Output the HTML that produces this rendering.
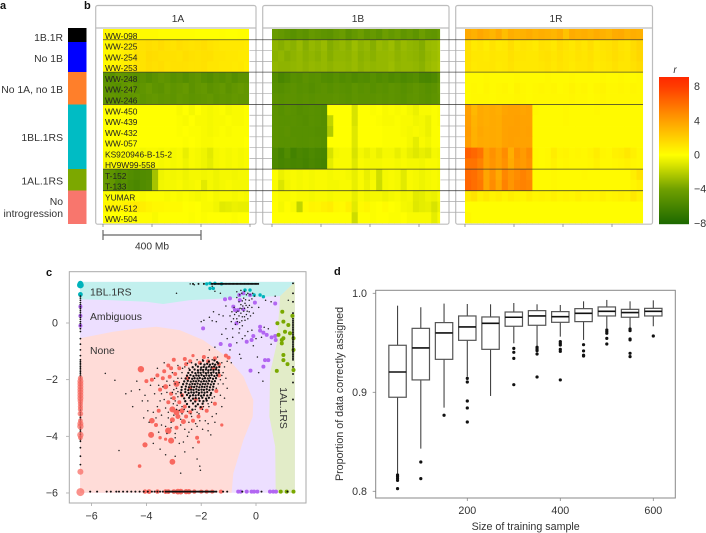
<!DOCTYPE html>
<html>
<head>
<meta charset="utf-8">
<style>
html,body{margin:0;padding:0;background:#fff;width:706px;height:533px;overflow:hidden}
svg{display:block}
text{font-family:"Liberation Sans",Arial,sans-serif;fill:#333}
.l{font-weight:bold;font-size:11px;fill:#111}
.s{font-size:10.4px}
.t{font-size:10.7px}
.st{font-size:10.2px}
.r{font-size:8.4px;fill:#222}
</style>
</head>
<body>
<svg id="fig" width="706" height="533" viewBox="0 0 706 533" xmlns="http://www.w3.org/2000/svg">
<text class="l" x="0" y="9">a</text>
<text class="l" x="84" y="9">b</text>
<text class="l" x="46" y="276">c</text>
<text class="l" x="334" y="275">d</text>

<g>
<rect x="68" y="28" width="18.5" height="14" fill="#000"/>
<rect x="68" y="42" width="18.5" height="30" fill="#0000ff"/>
<rect x="68" y="72" width="18.5" height="32.5" fill="#ff7f2a"/>
<rect x="68" y="104.5" width="18.5" height="64.5" fill="#00bcc4"/>
<rect x="68" y="169" width="18.5" height="21.5" fill="#7ca800"/>
<rect x="68" y="190.5" width="18.5" height="33.5" fill="#f8766d"/>
</g>
<g text-anchor="end" class="s">
<text class="s" x="63" y="41">1B.1R</text>
<text class="s" x="63" y="62">No 1B</text>
<text class="s" x="63" y="93">No 1A, no 1B</text>
<text class="s" x="63" y="141">1BL.1RS</text>
<text class="s" x="63" y="184.5">1AL.1RS</text>
<text class="s" x="63" y="205">No</text>
<text class="s" x="63" y="217">introgression</text>
</g>

<g fill="#fff" stroke="#bdbdbd" stroke-width="1.2">
<rect x="95.7" y="5.5" width="160.3" height="218.7" rx="2"/>
<rect x="262.7" y="5.5" width="186.3" height="218.7" rx="2"/>
<rect x="455.7" y="5.5" width="196.8" height="218.7" rx="2"/>
<line x1="95.7" x2="256" y1="28" y2="28"/>
<line x1="262.7" x2="449" y1="28" y2="28"/>
<line x1="455.7" x2="652.5" y1="28" y2="28"/>
</g>
<text class="st" x="178" y="22" text-anchor="middle">1A</text>
<text class="st" x="358" y="22" text-anchor="middle">1B</text>
<text class="st" x="556" y="22" text-anchor="middle">1R</text>

<g id="heat"></g>
<g id="heatTicks"></g>

<g stroke="#666" stroke-width="1.2">
<line x1="103" x2="201" y1="235" y2="235"/>
<line x1="103" x2="103" y1="230" y2="240"/>
<line x1="201" x2="201" y1="230" y2="240"/>
</g>
<text class="st" x="152" y="249.5" text-anchor="middle">400 Mb</text>

<g id="cbar"></g>
<text x="675" y="73" font-size="10" font-style="italic" text-anchor="middle">r</text>

<g id="scatter"></g>
<g id="box"></g>
</svg>

<script>
// ---------- panel b data: r value per 25 Mb bin, one array per line ----------
const rowNames = ["WW-098","WW-225","WW-254","WW-253","WW-248","WW-247","WW-246","WW-450","WW-439","WW-432","WW-057","KS920946-B-15-2","HV9W99-558","T-152","T-133","YUMAR","WW-512","WW-504"];
const majorBreaks = [1,4,7,13,15];
const chromLengthsMb = [596,686,726];
const heat1A = [
[0.3,0.3,0.2,0.2,0.2,0.2,0.2,0.2,0.2,0.1,0.1,0.1,0.1,0.1,0.1,0,0,0,0,0.1,0,0,0.1,0.1],
[0.3,0.4,0.6,0.8,0.8,1.2,1.3,1.4,1.3,1.5,1.3,1.2,1.4,1.3,1.2,1.3,1.4,1.2,1.1,1,1,1,1,0.9],
[0.3,0.4,0.5,0.8,0.9,1.3,1.2,1.5,1.4,1.3,1.3,1.3,1.2,1.4,1.3,1.2,1.3,1.3,1.1,1.1,1,1,0.9,0.9],
[0.2,0.4,0.5,0.7,0.9,1.2,1.2,1.4,1.3,1.4,1.2,1.3,1.3,1.3,1.2,1.2,1.3,1.1,1.1,1,1,0.9,1,0.8],
[-5,-5.2,-4.6,-4.8,-5,-5.2,-5,-5.3,-5,-4.7,-4.9,-5.2,-5,-5.3,-5,-4.8,-5.2,-5.4,-5,-5.2,-4.9,-5.3,-5,-5],
[-4.8,-5,-5.2,-4.7,-4.5,-5,-4.8,-4.5,-4.9,-5,-4.6,-4.9,-4.7,-4.5,-5,-4.7,-4.6,-5,-4.8,-4.6,-5,-4.7,-4.5,-4.7],
[-4.8,-4.7,-4.9,-4.7,-4.8,-4.6,-4.9,-4.7,-4.6,-4.8,-4.7,-4.9,-4.6,-4.7,-4.9,-4.8,-4.7,-4.6,-4.9,-4.7,-4.8,-4.6,-4.7,-4.7],
[0,0,0,0,0,0,0,0,0,0,0,0,-0.2,0,-0.3,0,-0.2,-0.3,-0.2,-0.1,-0.3,-0.2,-0.2,-0.1],
[0,0,0,0,0,0,0,0,0,0,0,0,-0.1,-0.2,0,-0.2,-0.2,-0.3,-0.2,-0.2,-0.1,-0.2,-0.2,-0.1],
[0,0,0,0,0,0,0,0,0,0,0,0,-0.1,0,-0.1,-0.1,-0.2,-0.3,-0.2,-0.1,-0.2,-0.1,-0.1,-0.1],
[0,0,0.1,0.1,0,0,0,0,0,0,0,0,0,-0.1,0,-0.1,-0.2,-0.2,-0.1,-0.1,-0.1,-0.1,-0.1,0],
[-0.1,-0.2,-0.2,-0.1,-0.2,-0.2,-0.3,-0.2,-0.2,-0.3,-0.2,-0.3,-0.2,-0.7,-0.2,-0.3,-0.5,-0.9,-0.3,-0.2,-0.3,-0.2,-0.3,-0.2],
[-0.2,-0.2,-0.3,-0.2,-0.2,-0.3,-0.3,-0.2,-0.2,-0.3,-0.2,-0.3,-0.2,-0.5,-0.2,-0.3,-0.5,-0.8,-0.3,-0.2,-0.3,-0.2,-0.3,-0.2],
[-4.6,-4.9,-5.4,-5.1,-5.4,-5.6,-5.5,-5.4,-2.6,-0.5,-0.3,-0.4,-0.3,-0.5,-0.3,-0.3,-0.4,-0.3,-0.5,-0.3,-0.3,-0.4,-0.3,-0.3],
[-4.4,-4.7,-5.5,-5.2,-5.6,-5.8,-5.5,-5.3,-2.5,-0.4,-0.3,-0.3,-0.2,-0.4,-0.3,-0.2,-0.9,-0.3,-0.5,-0.3,-0.2,-0.3,-0.3,-0.3],
[-0.1,-0.1,-0.2,-0.2,-0.1,-0.1,-0.2,-0.1,-0.1,-0.1,-0.2,-0.1,-0.2,-0.1,-0.2,-0.3,-0.2,-0.1,-0.3,-0.2,-0.2,-0.3,-0.2,-0.3],
[0.4,0.5,0.4,0.6,0.8,0.9,0.7,0.5,0.3,0.3,0.2,0.2,0.2,0,0.1,0,-0.2,-0.2,-0.4,-0.9,-0.8,-0.6,-0.7,-0.7],
[0,0,0,0,0,0.1,0.1,0.1,-0.2,0,0,0,0,0,-0.1,0,-0.1,0,0,0,0,-0.1,0,0]
];
const heat1B = [
[-4.4,-4.6,-4.9,-5.1,-4.8,-5,-4.5,-4.7,-4.9,-5,-4.6,-4.3,-5,-4.6,-4.2,-4.8,-4.5,-4.9,-4.2,-4.6,-4.3,-4.8,-4.5,-4.9,-4.2,-4.7,-4.8,-4.4],
[-3.2,-3.4,-3.1,-3.3,-2.9,-3.4,-3,-3.2,-2.9,-3.5,-3.2,-3,-3.3,-2.8,-3.2,-3,-3.4,-2.9,-3.1,-2.8,-3.3,-2.9,-3.1,-3.2,-3.5,-2.9,-2.8,-2.6],
[-3.3,-3.1,-3.4,-3.2,-3,-3.3,-3.1,-3.3,-3,-3.4,-3.1,-3.1,-3.2,-2.9,-3.3,-3.1,-3.3,-3,-3,-2.9,-3.2,-3,-3.1,-3.2,-3.4,-3,-2.8,-2.6],
[-3.1,-3.2,-3.2,-3.1,-3,-3.2,-3,-3.1,-3,-3.2,-3,-3,-3.1,-2.9,-3.2,-3,-3.1,-3,-3,-2.8,-3.1,-3,-3,-3.1,-3.3,-2.9,-2.7,-2.5],
[-5.4,-5.9,-5.6,-5.2,-5.3,-5,-5.2,-5.1,-5.4,-5.5,-5.2,-5.5,-5.3,-5.6,-5.4,-5.5,-5.2,-5.5,-5.3,-5.6,-5.4,-5.7,-5.5,-5.3,-5.8,-5.9,-5.6,-5],
[-5.2,-5.3,-5.1,-5,-5.2,-5.1,-5.3,-5.1,-5,-5.2,-5,-5.1,-5.2,-4.9,-5.1,-5,-5.2,-5,-5.1,-4.9,-5,-5.2,-5,-4.8,-5,-5.2,-5,-4.6],
[-5,-5.1,-5,-5,-5.1,-5,-5.1,-5,-5,-5,-4.9,-5,-5.1,-4.9,-5,-5,-5,-4.9,-5,-4.9,-5,-5.1,-4.9,-4.8,-5,-5.1,-4.9,-4.7],
[-5,-5.2,-5,-5.1,-5.3,-5.2,-5.1,-5.2,-5.3,0,0,0,0,-1.2,0,0,-0.1,0,-0.2,-0.1,-0.2,-0.1,-0.3,-0.6,-0.2,-0.2,-0.1,-0.2],
[-5,-5.1,-5.1,-5.1,-5.2,-5.3,-5.1,-5.2,-5.3,-1.8,0,0,0,-1.2,0,0,0,-0.1,-0.2,-0.2,-0.1,-0.2,-0.2,-0.4,-0.3,-0.6,-0.1,-0.2],
[-5,-5.1,-5,-5.2,-5.2,-5.2,-5.2,-5.3,-5.3,-2.2,0,0,0,-1,0,0,0,0,-0.1,-0.1,-0.1,-0.2,-0.3,-0.2,-0.3,-0.6,-0.1,-0.1],
[-5,-5.1,-5.1,-5.1,-5.2,-5.2,-5.1,-5.2,-5.3,0,0,0,0,-1,0,0,0,0,-0.1,-0.1,-0.1,-0.1,-0.3,-0.8,-0.2,-0.4,-0.1,-0.1],
[-5.6,-6.1,-5.5,-6.2,-5.8,-6,-5.7,-5.9,-6,-1.2,-0.3,-0.2,-0.2,-1.2,-0.3,-0.6,-0.3,-0.7,-0.3,-0.3,-0.7,-0.3,-0.7,-1,-0.7,-0.9,-0.3,-0.4],
[-5.7,-6,-5.8,-6,-5.9,-6.1,-5.8,-6,-6.1,-0.8,-0.2,-0.2,-0.2,-1,-0.2,-0.3,-0.3,-0.3,-0.2,-0.2,-0.3,-0.2,-0.3,-0.3,-0.4,-0.2,-0.2,-0.3],
[-0.1,-0.6,-0.3,-0.2,-0.3,-0.2,-0.3,-0.2,-0.2,-0.3,-0.2,-0.2,-0.3,-0.7,-0.2,-0.7,-0.3,-1.4,-0.3,-0.2,-0.3,-0.9,-0.2,-0.3,-0.5,-0.3,-0.2,-0.3],
[-0.2,-1.1,-0.4,-0.2,-0.3,-0.2,-0.3,-0.2,-0.2,-0.3,-0.3,-0.2,-0.2,-0.7,-0.2,-0.6,-0.2,-1.5,-0.3,-0.2,-0.3,-0.9,-0.2,-0.3,-0.5,-0.3,-0.2,-0.3],
[-0.1,-0.2,-0.2,-0.1,-0.2,-0.2,-0.3,-0.2,-0.2,-0.3,-0.2,-0.2,-0.2,-0.7,-0.2,-0.4,-0.3,-0.3,-0.5,-0.3,-0.2,-0.4,-0.3,-0.9,-0.8,-0.5,-0.6,-0.3],
[0.1,-0.3,0.1,-0.2,-1.8,0.2,0.5,0.4,0.6,0.8,0.3,0.2,0.6,-0.9,0.2,0.4,-0.1,0,0.2,0,-0.1,-0.3,-0.4,-1,-0.8,-0.7,-1.2,-0.6],
[0,0,0,0,0,0,0,0,0,0,0,0,0,-1.5,0,0,-0.1,0,0,-0.1,-0.1,0,-0.2,-0.2,-0.2,-0.2,-0.8,-0.2]
];
const heat1R = [
[3.6,3.3,3.7,3.4,3.1,3.6,2.8,3.4,3.2,3.3,3.5,3.2,3.4,3.3,3.1,3.4,2.6,3.5,3.3,3.4,3.2,3.5,3.3,3.1,3.5,3.6,3.2,3.4,3.3],
[1.4,0.9,1.1,0.8,1.2,0.9,1,1.4,1,1.2,1.1,0.9,1.3,1.2,1,1.4,1.2,1,1.3,1.1,1.4,1,1.2,1.3,1.5,1.2,1.1,1.5,1.8],
[1.3,1,1,0.9,1.1,1,1,1.3,1.1,1.1,1,1,1.2,1.3,1.1,1.3,1.1,1,1.2,1.1,1.3,1,1.1,1.2,1.4,1.2,1.1,1.4,1.7],
[1.2,0.9,1,1,1.1,0.9,1,1.2,1,1,1,1,1.1,1.2,1,1.2,1.1,0.9,1.1,1.1,1.2,0.9,1,1.1,1.3,1.1,1.1,1.3,1.5],
[0.2,0.2,0.2,0.3,0.2,0.2,0.2,0.2,0.3,0.2,0.2,0.2,0.2,0.3,0.2,0.2,0.2,0.3,0.2,0.2,0.2,0.2,0.3,0.2,0.2,0.3,0.2,0.2,0.3],
[0.2,0.3,0.2,0.4,0.2,0.3,0.4,0.2,0.5,0.3,0.2,0.3,0.4,0.3,0.4,0.2,0.3,0.5,0.3,0.4,0.2,0.4,0.5,0.3,0.3,0.4,0.3,0.4,0.3],
[0.2,0.3,0.3,0.3,0.2,0.3,0.3,0.3,0.4,0.3,0.2,0.3,0.3,0.3,0.3,0.3,0.3,0.4,0.3,0.3,0.2,0.3,0.4,0.3,0.3,0.3,0.3,0.3,0.3],
[4,3,3.6,3.4,3.6,3.4,3.8,3.9,3.9,3.8,3.9,0.3,0.2,0.2,0.2,0.2,0.3,0.2,0.2,0.2,0.2,0.3,0.2,0.2,0.2,0.2,0.2,0.2,0.2],
[4.1,3.2,3.6,3.4,3.6,3.5,3.9,3.9,4,3.9,3.9,0.2,0.2,0.2,0.2,0.2,0.3,0.2,0.2,0.2,0.2,0.2,0.2,0.2,0.2,0.2,0.2,0.2,0.2],
[4.2,3.3,3.7,3.5,3.6,3.5,3.9,4,4,3.9,4,0.2,0.2,0.2,0.2,0.2,0.2,0.2,0.2,0.2,0.2,0.2,0.2,0.2,0.2,0.2,0.2,0.2,0.2],
[4.1,3.3,3.6,3.5,3.6,3.5,3.9,4,3.9,3.9,3.9,0.2,0.2,0.2,0.2,0.2,0.2,0.2,0.2,0.2,0.2,0.2,0.2,0.2,0.2,0.2,0.2,0.2,0.2],
[6.6,6.3,5.8,4,4.6,4,4.8,3.4,4.6,4.2,4.8,0.3,0.2,0.3,0.8,0.4,0.5,0.3,0.4,0.3,0.5,0.8,0.4,0.3,0.6,0.7,1,0.6,0.3],
[5.8,5.8,5.2,4,4.5,4,4.6,3.6,4.4,4.2,4.6,0.3,0.2,0.3,0.6,0.3,0.4,0.3,0.3,0.3,0.4,0.6,0.3,0.3,0.4,0.5,0.6,0.4,0.3],
[6.2,6,5.4,3.8,4.6,3.6,5,4.4,4.8,5.2,4.8,0.2,0.2,0.2,0.3,0.2,0.2,0.2,0.2,0.3,0.2,0.2,0.2,0.2,0.2,0.2,0.2,0.7,1.2],
[6.4,6,5.6,3.8,4.8,3.8,5.2,4.4,5,5.2,5,0.2,0.2,0.2,0.3,0.2,0.2,0.2,0.2,0.2,0.2,0.2,0.2,0.2,0.2,0.2,0.2,0.4,0.6],
[0.9,1.2,0.6,0.9,0.5,0.7,0.4,0.7,0.5,0.4,0.7,0.4,0.5,0.4,0.6,0.4,0.5,0.4,0.6,0.4,0.5,0.4,0.6,0.4,0.5,0.6,0.5,1,0.6],
[0.1,0.1,0.1,0.1,0.1,0.1,0.1,0.1,0.1,0.1,0.1,0.1,0.1,0.1,0.1,0.1,0.1,0.1,0.1,0.1,0.1,0.1,0.1,0.1,0.1,0.1,0.1,0.1,0.1],
[0.3,0.1,0.1,0.1,0.1,0.1,0.1,0.1,0.1,0.1,0.1,0.1,0.1,0.1,0.1,0.1,0.1,0.1,0.1,0.1,0.1,0.1,0.1,0.1,0.1,0.1,0.1,0.1,0.1]
];
const binMb = 25;
const genomeTicksMb = [0,200,400,600];
const cbarTicks = [8,4,0,-4,-8];

// ---------- panel c data ----------
const cTicksX = [-6,-4,-2,0];
const cTicksY = [0,-2,-4,-6];
const regionAll = [[-6.42,1.45],[1.42,1.45],[1.42,-5.99],[-6.42,-5.99]];
const regionNone = [[-6.42,-0.54],[-5.22,-0.31],[-4.4,-0.2],[-3.63,-0.13],[-2.78,-0.25],[-1.93,-0.6],[-1.07,-1.19],[-0.46,-1.89],[-0.1,-2.72],[-0.12,-3.31],[-0.46,-4.13],[-0.83,-5.31],[-0.89,-5.99],[-6.42,-5.99]];
const regionTeal = [[-6.42,1.45],[1.42,1.45],[0.88,0.95],[0.15,0.93],[-1.07,0.87],[-2.41,0.81],[-3.39,0.67],[-4,0.75],[-5.34,0.81],[-6.42,0.84]];
const regionGreen = [[1.42,1.45],[0.88,0.95],[0.82,0.11],[0.76,-0.72],[0.51,-1.78],[0.49,-3.31],[0.7,-4.36],[0.72,-5.99],[1.42,-5.99]];
const noneRail = [[-6.41,-1.95,2.6],[-6.41,-2.05,3],[-6.41,-2.15,3],[-6.41,-2.25,3],[-6.41,-2.35,3],[-6.41,-2.45,3],[-6.41,-2.55,3],[-6.41,-2.65,3],[-6.41,-2.75,2.8],[-6.41,-2.85,2.6],[-6.41,-2.95,2.6],[-6.41,-3.05,2.6],[-6.41,-3.2,2.8],[-6.41,-3.45,2.4],[-6.41,-3.55,3],[-6.41,-3.65,3.2],[-6.41,-3.95,3.2],[-6.41,-4.05,2.4],[-6.41,-5.25,3],[-6.41,-5.97,4]];
const nonePts = [
[-4.05,-5.95,2.2],[-3.9,-5.95,2.4],[-3.6,-5.95,2.2],[-3.3,-5.95,2.4],[-3.2,-5.95,2.4],[-3.0,-5.95,2.4],[-2.85,-5.95,2.9],[-2.75,-5.95,2.9],[-2.55,-5.95,2.6],[-2.45,-5.95,2.6],[-2.25,-5.95,2.2],[-2,-5.95,2],[-1.8,-5.95,2],[-1.6,-5.95,2],[-1.28,-5.95,2],
[-4.2,-1.63,3.2],[-3.05,-4.9,2.9],[-4.05,-4.3,2.6],[-3.83,-3.95,3],[-3.2,-3.8,3.2],[-3.1,-4.15,3],[-3.8,-3.45,2.8],[-2.9,-3.15,3],[-3.05,-3.05,3],[-2.7,-3.1,2.5],[-2.85,-3.3,2.5],[-3.05,-3.42,2.5],[-2.65,-3.48,2.5],[-3.3,-2.25,2.6],[-2.9,-2.15,3],[-4.25,-5.05,1.8],[-1.25,-3.6,1.6],[-2.1,-4.2,1.6],[-3.5,-4.05,1.7],[-3.3,-4.1,1.6],
[-3,-1.3],[-2.6,-1.27],[-2.55,-1.45],[-2.4,-1.35],[-2.3,-1.15,1.6],[-2.05,-1.4],[-1.9,-1.2],[-1.75,-1.35],[-1.5,-1.25],[-1.35,-1.45],[-1.1,-1.15],[-1,-1.22],[-3.2,-1.5],[-3.35,-1.7],[-3.1,-1.6],[-3.6,-1.85],[-3.8,-2],[-4,-2.05],[-3.15,-1.9],[-2.95,-1.8],[-2.8,-1.6],[-3.4,-1.95],[-3.5,-2.35],[-3.1,-2.5],[-3.2,-2.8],[-3,-2.65],[-2.7,-2.55],[-2.8,-2.8],[-2.6,-2.95],[-2.4,-3.15],[-2.55,-3.3],[-2.3,-3.45],[-2.1,-3.3],[-2.9,-3.7],[-3.55,-3.1],[-3.65,-3.6],[-2.4,-2.3],[-2.2,-2.7],[-2.5,-1.95],[-2,-3],[-1.8,-3.1],[-1.5,-2.85],[-1.45,-2.4],[-1.35,-1.85],[-1.55,-1.6],[-2.15,-4.05]];
const purplePts = [[-1.93,-0.19],[-1.29,-0.74],[-0.95,-0.78],[-0.34,-0.66],[-0.16,-0.6],[-0.1,-0.46],[0.15,-0.13],[0.15,-0.27],[0.27,-0.34],[0.39,-0.42],[0.57,-0.51],[0.7,-0.46],[0.72,-0.6],[0.33,-1.31],[0.27,-1.54],[0.45,-1.31],[-0.2,-1.68],[-0.83,0.58],[-0.77,0.46],[-0.46,0.48],[-0.59,0.81],[-0.61,0.99],[-1.13,0.84],[-0.95,0.87],[-0.04,0.72],[0.7,0.69],[-0.71,-0.01],[-0.65,0.46],[-0.22,0.99],[-0.46,1.05],[-0.65,-5.95],[-0.56,-5.95],[-0.34,-5.95],[-0.16,-5.95],[-0.07,-5.95],[0.05,-5.95],[0.51,-5.95],[0.63,-5.95],[0.73,-5.95],[-6.41,0.58],[-6.41,0.25],[-6.41,-0.1]];
const greenPts = [[0.96,0.4],[1,0.05],[0.78,-0.01],[1.18,-0.07],[0.82,-0.42],[1.06,-0.31],[1.24,-0.36],[1.37,-0.54],[1,-0.54],[0.94,-0.6],[0.94,-0.72],[1.37,-0.95],[1,-1.13],[1,-1.31],[1.15,-1.45],[1.37,-1.66],[0.76,-1.69],[1.33,0.25],[0.9,-5.95],[1.12,-5.95],[1.37,-5.95]];
const tealPts = [[-6.41,1.34,3.4],[-6.41,1.4,2.6],[-6.41,1.01,2.4],[-1.8,1.38],[-1.68,1.4],[-1.5,1.4],[-1.26,1.38],[-1.68,1.22],[-1.56,1.22],[-0.4,1.16],[-0.22,1.16],[-0.07,0.99],[0.15,0.99],[0.27,0.93]];
const railTopX = [-2.3,-2.1,-1.9,-1.62,-1.58,-1.52,-1.47,-1.42,-1.37,-1.32,-1.27,-1.22,-1.17,-1.12,-1.07,-1.02,-0.97,-0.92,-0.87,-0.82,-0.77,-0.72,-0.67,-0.62,-0.57,-0.52,-0.47,-0.42,-0.37,-0.32,-0.27,-0.22,-0.17,-0.12,-0.07,-0.02,0.03,0.08];
const railLeftY = [0.95,0.88,0.8,0.72,0.65,0.57,0.5,0.43,0.36,0.28,0.2,0.13,0.05,-0.02,-0.1,-0.2,-0.3,-0.55,-0.75,-0.95,-1.15,-1.3,-1.36,-1.42,-1.48,-1.54,-1.6,-1.66,-1.72,-1.78,-1.84,-1.9,-1.96,-2.02,-2.08,-2.14,-2.2,-2.26,-2.32,-2.38,-2.44,-2.5,-2.56,-2.62,-2.68,-2.74,-2.8,-2.86,-2.92,-2.98,-3.04,-3.1,-3.16,-3.22,-3.28,-3.34,-3.4,-3.46,-3.52,-3.58,-3.64,-3.7,-3.76,-3.82,-3.88,-3.94,-4,-4.06,-4.12,-4.18,-4.4,-4.7,-5];
const railBottomX = [-6.05,-5.8,-5.45,-5.3,-5.1,-5,-4.85,-4.7,-4.55,-4.4,-4.25,-4.1,-3.95,-3.8,-3.7,-3.6,-3.5,-3.4,-3.3,-3.25,-3.2,-3.15,-3.1,-3.05,-3,-2.95,-2.9,-2.85,-2.8,-2.75,-2.7,-2.65,-2.6,-2.55,-2.5,-2.45,-2.4,-2.35,-2.3,-2.25,-2.2,-2.15,-2.1,-2.05,-2,-1.95,-1.9,-1.85,-1.8,-1.75,-1.7,-1.65,-1.6,-1.55,-1.5,-1.45,-1.2,-1.05,-0.5,0.2,1.15];
const railRightY = [1.4,1.05,0.75,0.35,0.15,0.08,0.02,-0.04,-0.1,-0.16,-0.22,-0.28,-0.34,-0.4,-0.46,-0.52,-0.58,-0.64,-0.7,-0.76,-0.82,-0.88,-0.94,-1,-1.06,-1.12,-1.18,-1.24,-1.3,-1.55,-1.8,-2.1,-2.7];
const blackCore = [
[-1.93,-1.33],[-1.72,-1.36],[-1.52,-1.32],[-1.42,-1.38],
[-2.2,-1.46],[-2.02,-1.44],[-1.88,-1.47],[-1.78,-1.44],[-1.68,-1.47],[-1.58,-1.44],[-1.49,-1.47],[-1.38,-1.43],
[-2.31,-1.56],[-2.12,-1.54],[-2,-1.57],[-1.91,-1.55],[-1.81,-1.57],[-1.72,-1.54],[-1.62,-1.56],[-1.53,-1.54],[-1.44,-1.57],[-1.34,-1.55],
[-2.42,-1.66],[-2.24,-1.64],[-2.12,-1.67],[-2.02,-1.65],[-1.93,-1.66],[-1.83,-1.64],[-1.74,-1.67],[-1.65,-1.65],[-1.55,-1.66],[-1.46,-1.64],[-1.36,-1.67],
[-2.47,-1.76],[-2.33,-1.74],[-2.21,-1.77],[-2.11,-1.75],[-2.02,-1.76],[-1.92,-1.74],[-1.83,-1.77],[-1.74,-1.75],[-1.64,-1.76],[-1.55,-1.74],[-1.45,-1.77],[-1.35,-1.75],
[-2.52,-1.86],[-2.39,-1.84],[-2.28,-1.87],[-2.18,-1.85],[-2.09,-1.86],[-1.99,-1.84],[-1.9,-1.87],[-1.81,-1.85],[-1.71,-1.86],[-1.62,-1.84],[-1.52,-1.87],[-1.42,-1.85],
[-2.57,-1.96],[-2.44,-1.94],[-2.33,-1.97],[-2.24,-1.95],[-2.14,-1.96],[-2.05,-1.94],[-1.95,-1.97],[-1.86,-1.95],[-1.76,-1.96],[-1.67,-1.94],[-1.57,-1.97],[-1.46,-1.95],
[-2.62,-2.06],[-2.49,-2.04],[-2.38,-2.07],[-2.28,-2.05],[-2.19,-2.06],[-2.09,-2.04],[-2,-2.07],[-1.9,-2.05],[-1.81,-2.06],[-1.71,-2.04],[-1.61,-2.07],[-1.5,-2.05],
[-2.66,-2.16],[-2.53,-2.14],[-2.42,-2.17],[-2.32,-2.15],[-2.23,-2.16],[-2.13,-2.14],[-2.04,-2.17],[-1.94,-2.15],[-1.85,-2.16],[-1.75,-2.14],[-1.65,-2.17],[-1.54,-2.15],
[-2.71,-2.26],[-2.56,-2.24],[-2.45,-2.27],[-2.35,-2.25],[-2.26,-2.26],[-2.16,-2.24],[-2.07,-2.27],[-1.97,-2.25],[-1.88,-2.26],[-1.78,-2.24],[-1.68,-2.27],[-1.56,-2.25],
[-2.72,-2.36],[-2.58,-2.34],[-2.47,-2.37],[-2.37,-2.35],[-2.28,-2.36],[-2.18,-2.34],[-2.09,-2.37],[-1.99,-2.35],[-1.9,-2.36],[-1.8,-2.34],[-1.7,-2.37],[-1.58,-2.35],
[-2.74,-2.46],[-2.58,-2.44],[-2.46,-2.47],[-2.36,-2.45],[-2.27,-2.46],[-2.17,-2.44],[-2.08,-2.47],[-1.98,-2.45],[-1.88,-2.46],[-1.78,-2.44],[-1.64,-2.47],
[-2.7,-2.56],[-2.52,-2.54],[-2.4,-2.57],[-2.3,-2.55],[-2.2,-2.56],[-2.1,-2.54],[-2,-2.57],[-1.9,-2.55],[-1.78,-2.56],[-1.66,-2.54],
[-2.62,-2.66],[-2.44,-2.64],[-2.3,-2.67],[-2.2,-2.65],[-2.08,-2.66],[-1.96,-2.64],[-1.82,-2.67],[-1.72,-2.64],
[-2.58,-2.76],[-2.38,-2.74],[-2.22,-2.77],[-2.06,-2.75],[-1.92,-2.76],[-1.8,-2.74],
[-2.52,-2.86],[-2.3,-2.84],[-2.12,-2.87],[-1.95,-2.85],
[-2.44,-2.96],[-2.2,-2.94],[-2.02,-2.97],[-2.32,-3.06]];
const blackPts = [[-5.5,-1.78],[-5.15,-2.02],[-4.75,-2.5],[-4.55,-2.4],[-4.5,-2.95],[-5,-4.5],[-4.35,-2.05],[-4.05,-2.55],[-3.95,-2.75],[-3.7,-2.5],[-3.85,-2.2],[-3.7,-1.95],[-3.55,-2.2],[-3.45,-2.5],[-3.35,-2.7],[-3.6,-2.95],[-3.75,-3.15],[-3.65,-3.35],[-3.45,-3.25],[-3.3,-3],[-3.2,-3.35],[-3.45,-3.6],[-3.3,-3.65],[-3.55,-3.85],[-3.75,-4.25],[-3.5,-4.45],[-3.3,-4.65],[-2.95,-4.7],[-2.6,-4.55],[-2.8,-4.25],[-2.5,-4],[-2.3,-4.4],[-2.15,-4.8],[-2.05,-5.05],[-2.03,-5.2],[-2.75,-5.3],[-2.95,-3.9],[-2.6,-3.75],[-2.35,-3.75],[-2.15,-3.65],[-1.95,-3.75],[-1.75,-3.8],[-1.65,-3.95],[-1.85,-3.45],[-1.6,-3.3],[-1.45,-3.2],[-1.25,-2.95],[-1.15,-2.65],[-1.05,-2.3],[-1.1,-1.95],[-1.2,-2.15],[-1.3,-2.55],[-1.75,-2.85],[-1.6,-2.65],[-1.95,-3.05],[-2.15,-3.15],[-2.35,-3.3],[-2.7,-3.2],[-2.9,-3.05],[-2.95,-2.75],[-3.05,-2.45],[-3.15,-2.2],[-3,-2.05],[-2.85,-1.95],[-3.05,-1.75],[-2.85,-1.5],[-2.7,-1.75],[-2.6,-1.55],[-2.45,-1.6],[-2.35,-1.4],[-2.2,-1.5],[-2.15,-1.3],[-1.95,-1.3],[-1.75,-1.22],[-1.6,-1.3],[-1.4,-1.2],[-1.25,-1.4],[-1.15,-1.55],[-1.2,-1.75],[-1.05,-1.35],[-0.9,-1.4],[-3.35,-1.4],[-3.6,-1.6],[-3.25,-2.05],[-2.9,-2.3],[-2.85,-2.6],[-2.7,-2.95],[-3.1,-3.7],[-2.75,-3.6],
[-2.95,-2.15],[-3,-2.35],[-2.92,-2.5],[-3.1,-2.65],[-3.02,-2.85],[-2.88,-2.9],[-2.8,-3.08],[-2.62,-3.05],[-2.5,-3.12],[-2.38,-3.2],[-2.22,-3.05],[-2.08,-3.2],[-1.92,-2.95],[-1.72,-2.95],[-1.62,-2.8],[-1.52,-2.6],[-1.45,-2.3],[-1.38,-2.15],[-1.3,-2],[-1.25,-1.85],[-2.72,-1.95],[-2.8,-2.1],[-2.68,-1.6],[-2.5,-1.42],[-2.85,-2.42],[-3.25,-2.45],[-3.4,-2.25],[-3.5,-2.75],[-3.2,-3.15],[-3,-3.25],[-3.1,-3.5],[-2.75,-3.4],[-2.45,-3.5],[-2.2,-3.55],[-2.05,-3.45],[-1.75,-3.55],[-1.5,-3.5],[-3.25,-3.9],[-2.95,-4.05],[-2.65,-4.2],[-2.45,-3.85],[-4.15,-2.75],[-4.25,-2.35],[-3.95,-3.1],[-3.9,-3.5],[-4.1,-3.35],
[-0.7,0.9],[-0.62,0.75],[-0.55,0.65],[-0.48,0.6],[-0.4,0.7],[-0.3,0.55],[-0.25,0.4],[-0.35,0.3],[-0.45,0.42],[-0.55,0.35],[-0.62,0.25],[-0.7,0.15],[-0.78,0.3],[-0.82,0.15],[-0.9,0.05],[-0.75,-0.05],[-0.6,0.02],[-0.5,-0.1],[-0.6,-0.2],[-0.4,0.1],[-0.3,0.15],[-0.2,0.25],[-0.15,0.55],[-0.1,0.35],[-0.25,0.8],[-0.15,0.85],[-0.05,0.95],[-0.35,1],[-0.45,0.88],[-0.3,1.05],[-0.7,1.1],[-0.55,1.15],[-1.3,1.05],[-1.5,1.12],[-1.6,1.3],[-1.1,0.6],[-1.2,0.25],[-1.35,0.3],[-1.45,0.05],[-1.6,0.08],[-1.9,0.1],[-2,0.05],[-1.7,0.2],[-1.55,0.4],[-1.1,-0.2],[-1.25,-0.4],[-1.5,-0.85],[-1.7,-0.95],[-1.05,-0.55],[-0.85,-0.5],[-0.7,-0.7],[-0.95,-0.95],[-0.6,-1.1],[-0.55,-1.25],[-0.5,-0.55],[-0.3,-0.3],[-0.15,-0.25],[-0.1,-0.8],[0,-0.55],[0.2,-0.5],[0.3,-0.15],[0.45,-0.2],[0.05,-1.2],[0.1,-1.75],[0.25,-2.05],[0.1,0.55],[0.35,0.8],[0.55,0.75],[0.7,0.95],[1.35,-2.7],[0.55,-0.75],[1.18,0.8],[-2.9,1.05],[-2.25,1.35],[-2.4,1.38],
[-0.52,0.5],[-0.42,0.52],[-0.36,0.62],[-0.58,0.52],[-0.66,0.42],[-0.72,0.38],[-0.5,0.22],[-0.42,0.22],[-0.68,0.05],[-0.52,0.08],[-0.32,0.42],[-0.24,0.62],[-0.5,0.78],[-0.38,0.82],[-0.22,1],[-0.12,1.05],[-0.6,1],[-0.52,1.05],[-0.42,1.12],[-0.8,0.55],[-0.88,0.4],[-0.95,0.25],[-0.62,-0.35],[-0.4,-0.45],[-0.85,-0.2]];

// ---------- panel d data ----------
const trainingSizes = [50,100,150,200,250,300,350,400,450,500,550,600];
const whiskerHigh = [0.9875,0.9859,0.9896,0.9892,0.9889,0.9902,0.9889,0.9882,0.9919,0.9933,0.9919,0.9929];
const quartile3 = [0.9475,0.9646,0.9704,0.9771,0.9761,0.9811,0.9825,0.9815,0.9845,0.9862,0.9838,0.9848];
const medians = [0.9205,0.9448,0.96,0.966,0.9697,0.9758,0.9771,0.9764,0.9798,0.9818,0.9805,0.9818];
const quartile1 = [0.895,0.9125,0.9333,0.9525,0.9434,0.9667,0.9677,0.9707,0.9714,0.9771,0.9758,0.9771];
const whiskerLow = [0.818,0.8431,0.8845,0.9158,0.8963,0.9495,0.9468,0.9562,0.9529,0.9646,0.9653,0.9667];
const outliers = [[0.8165,0.815,0.813,0.811,0.8027],[0.8296,0.8128],[0.8768],[0.9141,0.9104,0.8912,0.8842,0.87],[],[0.9444,0.9404,0.9343,0.9077],[0.9455,0.9438,0.9421,0.9387,0.9155],[0.9512,0.9495,0.9478,0.9434,0.9414,0.9125],[0.9481,0.9418,0.9374,0.9367],[0.963,0.9613,0.9596,0.9545,0.9488],[0.964,0.9623,0.9539,0.9529,0.9394,0.936],[0.9569]];
const dTicksX = [200,400,600];
const dTicksY = [0.8,0.9,1.0];

// ---------- helpers ----------
const NS = "http://www.w3.org/2000/svg";
function mk(parent, tag, attrs, txt){
  const el = document.createElementNS(NS, tag);
  for (const k in attrs) el.setAttribute(k, attrs[k]);
  if (txt !== undefined) el.textContent = txt;
  parent.appendChild(el);
  return el;
}
const fmt = v => String(v).replace("-", "\u2212");
const stops = [[-8.1,[28,104,0]],[-4,[112,160,0]],[-1,[223,232,0]],[0,[255,255,0]],[1,[255,232,0]],[4,[255,160,0]],[8,[255,60,0]],[9.2,[255,40,0]]];
function rColor(r){
  if (r <= stops[0][0]) r = stops[0][0];
  for (let i = 1; i < stops.length; i++){
    if (r <= stops[i][0]){
      const a = stops[i-1], b = stops[i], t = (r-a[0])/(b[0]-a[0]);
      return "rgb(" + a[1].map((c,j)=>Math.round(c+(b[1][j]-c)*t)).join(",") + ")";
    }
  }
  return "rgb(255,40,0)";
}

// ---------- panel b ----------
const heat = document.getElementById("heat");
const heatTicks = document.getElementById("heatTicks");
const pxPerMb = 0.245, rowTop = 29, rowH = 10.78;
const panels = [{d:heat1A,x0:103,len:chromLengthsMb[0]},{d:heat1B,x0:272,len:chromLengthsMb[1]},{d:heat1R,x0:465,len:chromLengthsMb[2]}];
const xHeat = (p,mb) => p.x0 + mb*pxPerMb;
const yRow = i => rowTop + i*rowH;
panels.forEach(p => {
  p.d.forEach((row,ri) => {
    row.forEach((v,ci) => {
      const start = ci*binMb, end = Math.min(start+binMb, p.len);
      if (end <= start) return;
      const over = end < p.len ? 0.4 : 0;
      const c = mk(heat,"rect",{x:xHeat(p,start).toFixed(2),y:yRow(ri).toFixed(2),width:((end-start)*pxPerMb+over).toFixed(2),height:(rowH+0.3).toFixed(2),fill:rColor(v)});
      
      
    });
  });
  genomeTicksMb.forEach(mb => {
    const t = mk(heatTicks,"line",{x1:xHeat(p,mb),x2:xHeat(p,mb),y1:224,y2:227,stroke:"#888","stroke-width":0.8});
    
    
  });
});
for (let i = 1; i < rowNames.length; i++){
  if (majorBreaks.includes(i)) continue;
  [[249.5,272],[440.5,465]].forEach(s => {
    const g = mk(heat,"line",{x1:s[0],x2:s[1],y1:yRow(i),y2:yRow(i),stroke:"#aaa","stroke-width":0.7});
    
    
  });
}
majorBreaks.forEach(i => {
  const m = mk(heat,"line",{x1:103,x2:643,y1:yRow(i),y2:yRow(i),stroke:"#333","stroke-opacity":0.85,"stroke-width":0.8});
  
  
});
rowNames.forEach((n,i) => {
  const t = mk(heat,"text",{x:105,y:(yRow(i)+9.8).toFixed(1),class:"r"},n);
  
  
});

// colour bar
const cbar = document.getElementById("cbar");
const yBar = r => 155 - r*8.55;
for (let y = 77; y < 224; y++){
  const r = (155-(y+0.5))/8.55;
  const s = mk(cbar,"rect",{x:659,y:y,width:30,height:1.2,fill:rColor(r)});
  
  
}
cbarTicks.forEach(r => {
  const t = mk(cbar,"text",{x:694,y:(yBar(r)+3.5).toFixed(1),class:"t"},fmt(r));
  
  
});

// ---------- panel c ----------
const sc = document.getElementById("scatter");
const cx = v => 256 + 27.4*v;
const cy = v => 323 - 28.33*v;
const poly = a => a.map(p => cx(p[0]).toFixed(1)+","+cy(p[1]).toFixed(1)).join(" ");
const frameC = mk(sc,"rect",{x:69.3,y:271.7,width:236.7,height:231.3,fill:"#fff",stroke:"#aaa","stroke-width":1});


const rAll = mk(sc,"polygon",{points:poly(regionAll),fill:"#eddfff"});


const rNone = mk(sc,"polygon",{points:poly(regionNone),fill:"#ffdcd8"});


const rTeal = mk(sc,"polygon",{points:poly(regionTeal),fill:"#c2f0ee"});


const rGreen = mk(sc,"polygon",{points:poly(regionGreen),fill:"#e2ecc8"});



const lab1 = mk(sc,"text",{x:90,y:295.5,class:"s"},"1BL.1RS");


const lab2 = mk(sc,"text",{x:90,y:320,class:"s"},"Ambiguous");


const lab3 = mk(sc,"text",{x:90,y:354,class:"s"},"None");


const lab4 = mk(sc,"text",{x:280,y:408,class:"s","text-anchor":"middle",transform:"rotate(90 280 408)"},"1AL.1RS");



function drawPts(arr, color, defR, name, opacity){
  arr.forEach(p => {
    const c = mk(sc,"circle",{cx:cx(p[0]).toFixed(1),cy:cy(p[1]).toFixed(1),r:p[2]||defR,fill:color,"fill-opacity":opacity||1});
    
    
  });
}
drawPts(nonePts,"#f8685f",2,"point-none");
drawPts(purplePts,"#b266f2",2,"point-ambiguous");
drawPts(greenPts,"#7aa800",2,"point-1al1rs");
drawPts(tealPts,"#00b3bb",1.7,"point-1bl1rs");
drawPts(railTopX.map(x=>[x,1.38]),"#111",1,"point-rail-top");
drawPts(railLeftY.map(y=>[-6.41,y]),"#111",0.9,"point-rail-left");
drawPts(railBottomX.map(x=>[x,-5.95]),"#111",1,"point-rail-bottom");
drawPts(railRightY.map(y=>[1.35,y]),"#111",0.95,"point-rail-right");
drawPts(noneRail,"#f8685f",3,"point-none-rail",0.72);
drawPts(blackPts,"#222",0.75,"point-sample");
drawPts(blackCore,"#111",1.15,"point-dense-core");

cTicksX.forEach(v => {
  const l = mk(sc,"line",{x1:cx(v),x2:cx(v),y1:503,y2:506,stroke:"#aaa","stroke-width":0.8});
  
  
  const t = mk(sc,"text",{x:cx(v),y:519.5,class:"t","text-anchor":"middle"},fmt(v));
  
  
});
cTicksY.forEach(v => {
  const l = mk(sc,"line",{x1:66,x2:69.3,y1:cy(v),y2:cy(v),stroke:"#aaa","stroke-width":0.8});
  
  
  const t = mk(sc,"text",{x:58,y:cy(v)+3.5,class:"t","text-anchor":"end"},fmt(v));
  
  
});

// ---------- panel d ----------
const bx = document.getElementById("box");
const dx = v => 374.3 + 0.465*v;
const dy = v => 293.3 + (1-v)*990;
const frameD = mk(bx,"rect",{x:375.7,y:290.3,width:299.6,height:207.7,fill:"#fff",stroke:"#888","stroke-width":1});


const boxW = 37.4;
trainingSizes.forEach((n,i) => {
  const x = dx(n), hw = (dx(n+boxW/2)-dx(n-boxW/2))/2;
  const w1 = mk(bx,"line",{x1:x,x2:x,y1:dy(whiskerHigh[i]),y2:dy(quartile3[i]),stroke:"#444","stroke-width":1.1});
  
  
  const w2 = mk(bx,"line",{x1:x,x2:x,y1:dy(quartile1[i]),y2:dy(whiskerLow[i]),stroke:"#444","stroke-width":1.1});
  
  
  const b = mk(bx,"rect",{x:x-hw,y:dy(quartile3[i]),width:hw*2,height:dy(quartile1[i])-dy(quartile3[i]),fill:"#fff",stroke:"#555","stroke-width":1.2});
  
  
  const m = mk(bx,"line",{x1:x-hw,x2:x+hw,y1:dy(medians[i]),y2:dy(medians[i]),stroke:"#111","stroke-width":1.6});
  
  
  outliers[i].forEach(o => {
    const c = mk(bx,"circle",{cx:x,cy:dy(o),r:1.6,fill:"#111"});
    
    
  });
});
dTicksX.forEach(v => {
  const l = mk(bx,"line",{x1:dx(v),x2:dx(v),y1:498,y2:501,stroke:"#888","stroke-width":0.8});
  
  
  const t = mk(bx,"text",{x:dx(v),y:514,class:"t","text-anchor":"middle"},String(v));
  
  
});
dTicksY.forEach(v => {
  const l = mk(bx,"line",{x1:372.7,x2:375.7,y1:dy(v),y2:dy(v),stroke:"#888","stroke-width":0.8});
  
  
  const t = mk(bx,"text",{x:367,y:dy(v)+3.5,class:"t","text-anchor":"end"},v.toFixed(1));
  
  
});
const xTitle = mk(bx,"text",{x:525.7,y:530,class:"t","text-anchor":"middle"},"Size of training sample");


const yTitle = mk(bx,"text",{x:0,y:0,class:"t","text-anchor":"middle",transform:"translate(343 394) rotate(-90)"},"Proportion of data correctly assigned");


</script>
</body>
</html>
